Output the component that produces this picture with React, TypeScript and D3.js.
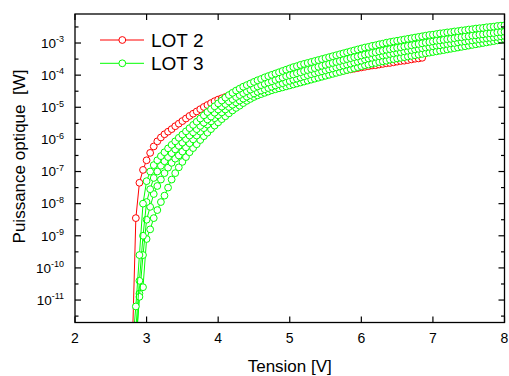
import React from 'react';
import * as d3 from 'd3';

// Voltage sweep of the measurements
const VOLT_START = 2.8;
const VOLT_STEP = 0.05;

// log10 of optical power [W]
const lot2LogP = [
  -12.5, -8.45, -7.35, -6.95, -6.65, -6.42, -6.22, -6.06, -5.94, -5.84, -5.76,
  -5.68, -5.59, -5.51, -5.43, -5.35, -5.27, -5.2, -5.13, -5.06, -4.99, -4.93, -4.87, -4.81,
  -4.76, -4.72, -4.68, -4.64, -4.6, -4.57, -4.54, -4.51, -4.48, -4.45, -4.42, -4.39, -4.37,
  -4.34, -4.31, -4.29, -4.26, -4.24, -4.21, -4.19, -4.17, -4.15, -4.12, -4.1, -4.08, -4.06,
  -4.04, -4.02, -4.0, -3.98, -3.96, -3.94, -3.92, -3.9, -3.88, -3.86, -3.84, -3.82, -3.8,
  -3.78, -3.76, -3.74, -3.72, -3.7, -3.69, -3.67, -3.65, -3.63, -3.62, -3.6, -3.58, -3.56,
  -3.55, -3.53, -3.51, -3.49, -3.48, -3.46,
];

const lot3aLogP = [
  -12.5, -11.2, -9.6, -8.0, -7.3, -7.0, -6.8, -6.65, -6.52, -6.4, -6.28, -6.17, -6.06, -5.95,
  -5.85, -5.75, -5.65, -5.55, -5.45, -5.35, -5.25, -5.15, -5.06, -4.97, -4.88, -4.79, -4.7,
  -4.62, -4.55, -4.48, -4.42, -4.36, -4.31, -4.26, -4.21, -4.16, -4.12, -4.07, -4.03, -3.99,
  -3.95, -3.91, -3.87, -3.83, -3.79, -3.75, -3.72, -3.68, -3.65, -3.62, -3.59, -3.56, -3.53,
  -3.5, -3.47, -3.44, -3.41, -3.38, -3.35, -3.32, -3.29, -3.26, -3.23, -3.2, -3.17, -3.14,
  -3.12, -3.09, -3.07, -3.04, -3.02, -2.99, -2.97, -2.95, -2.93, -2.91, -2.89, -2.87, -2.85,
  -2.83, -2.81, -2.79, -2.77, -2.75, -2.74, -2.72, -2.7, -2.69, -2.67, -2.66, -2.64, -2.63,
  -2.61, -2.6, -2.58, -2.57, -2.55, -2.54, -2.53, -2.51, -2.5, -2.49, -2.47, -2.46, -2.45,
];

const lot3bLogP = [
  -12.8, -11.9, -10.4, -9.0, -7.95, -7.55, -7.2, -7.0, -6.82, -6.68, -6.55, -6.43, -6.31, -6.2,
  -6.1, -5.99, -5.88, -5.78, -5.68, -5.58, -5.48, -5.38, -5.29, -5.17, -5.07, -4.98, -4.9,
  -4.82, -4.75, -4.68, -4.62, -4.56, -4.5, -4.45, -4.4, -4.35, -4.31, -4.27, -4.23, -4.19,
  -4.15, -4.11, -4.07, -4.03, -4.0,
  -3.98, -3.94, -3.91, -3.87, -3.84, -3.81, -3.78, -3.74, -3.71, -3.68,
  -3.65, -3.62, -3.59, -3.56, -3.53, -3.5, -3.47, -3.44, -3.42, -3.39,
  -3.36, -3.34, -3.31, -3.29, -3.26, -3.24, -3.21, -3.19, -3.17, -3.15,
  -3.13, -3.11, -3.09, -3.07, -3.05, -3.03, -3.01, -2.99, -2.97, -2.95,
  -2.93, -2.92, -2.9, -2.88, -2.87, -2.85, -2.83, -2.82, -2.8, -2.79,
  -2.77, -2.76, -2.74, -2.73, -2.71, -2.7, -2.69, -2.67, -2.66, -2.65,
];

const lot3cLogP = [
  -13.0, -12.4, -10.9, -9.6, -8.5, -8.1, -7.7, -7.45, -7.25, -7.05, -6.88, -6.73, -6.6, -6.5,
  -6.38, -6.25, -6.12, -6.0, -5.88, -5.76, -5.65, -5.54, -5.44, -5.34, -5.25, -5.16, -5.07,
  -4.99, -4.92, -4.85, -4.79, -4.73, -4.67, -4.62, -4.57, -4.52, -4.48, -4.44, -4.4, -4.36,
  -4.32, -4.28, -4.25, -4.21, -4.18,
  -4.14, -4.11, -4.07, -4.04, -4.0, -3.97, -3.94, -3.91, -3.88, -3.85,
  -3.82, -3.79, -3.76, -3.73, -3.7, -3.67, -3.64, -3.61, -3.58, -3.55,
  -3.51, -3.48, -3.46, -3.43, -3.41, -3.39, -3.37, -3.34, -3.32, -3.3,
  -3.28, -3.26, -3.24, -3.22, -3.2, -3.18, -3.16, -3.14, -3.12, -3.1,
  -3.08, -3.07, -3.05, -3.03, -3.01, -3.0, -2.98, -2.96, -2.95, -2.93,
  -2.92, -2.9, -2.88, -2.87, -2.85, -2.84, -2.82, -2.81, -2.79, -2.78,
];

const lot3dLogP = [
  -13.2, -12.5, -10.8, -10.6, -9.1, -8.8, -8.45, -8.2, -7.95, -7.75, -7.5, -7.25, -7.05, -6.87,
  -6.7, -6.55, -6.4, -6.27, -6.15, -6.02, -5.9, -5.79, -5.68, -5.57, -5.47, -5.37, -5.28,
  -5.19, -5.1, -5.02, -4.95, -4.87, -4.8, -4.74, -4.68, -4.63, -4.59, -4.55, -4.51, -4.47,
  -4.44, -4.41, -4.38, -4.35, -4.32,
  -4.29, -4.26, -4.23, -4.2, -4.17, -4.14, -4.11, -4.08, -4.05, -4.02,
  -3.99, -3.96, -3.93, -3.9, -3.87, -3.84, -3.81, -3.78, -3.75, -3.72,
  -3.69, -3.67, -3.64, -3.62, -3.59, -3.57, -3.55, -3.52, -3.5, -3.48,
  -3.46, -3.44, -3.42, -3.4, -3.38, -3.36, -3.34, -3.32, -3.3, -3.28,
  -3.26, -3.24, -3.22, -3.2, -3.18, -3.16, -3.14, -3.12, -3.1, -3.08,
  -3.06, -3.04, -3.02, -3.0, -2.98, -2.96, -2.94, -2.92, -2.9, -2.88,
];

const xTickValues = [2, 3, 4, 5, 6, 7, 8];
const yDecades = [-3, -4, -5, -6, -7, -8, -9, -10, -11];
const yMinorExps = [-2.5, -3.5, -4.5, -5.5, -6.5, -7.5, -8.5, -9.5, -10.5, -11.5];

const RED = '#ff0000';
const GREEN = '#00ff00';

const seriesList = [
  { name: 'LOT 2', color: RED, values: lot2LogP },
  { name: 'LOT 3', color: GREEN, values: lot3dLogP },
  { name: 'LOT 3', color: GREEN, values: lot3cLogP },
  { name: 'LOT 3', color: GREEN, values: lot3bLogP },
  { name: 'LOT 3', color: GREEN, values: lot3aLogP },
];
const legendItems = [
  { name: 'LOT 2', color: RED },
  { name: 'LOT 3', color: GREEN },
];

const WIDTH = 509;
const HEIGHT = 376;
const PL = 75, PR = 504.5, PT = 14, PB = 322.5;
const FONT = '"Liberation Sans", Arial, sans-serif';

export default function App() {
  const x = d3.scaleLinear().domain([2, 8]).range([PL, PR]);
  const y = d3.scaleLog().domain([2e-12, 8e-3]).range([PB, PT]);
  const line = d3
    .line<[number, number]>()
    .x((d) => x(d[0]))
    .y((d) => y(d[1]));

  const toPoints = (vals: number[]): [number, number][] =>
    vals.map((v, i) => [VOLT_START + i * VOLT_STEP, Math.pow(10, v)]);

  const R = 3.4;

  return (
    <svg
      width={WIDTH}
      height={HEIGHT}
      style={{ position: 'absolute', left: 0, top: 0, background: '#fff' }}
      fontFamily={FONT}
    >
      <defs>
        <clipPath id="plotclip">
          <rect x={PL} y={PT} width={PR - PL} height={PB - PT} />
        </clipPath>
      </defs>
      <rect x={0} y={0} width={WIDTH} height={HEIGHT} fill="#fff" />

      <g clipPath="url(#plotclip)">
        {seriesList.map((s, si) => {
          const pts = toPoints(s.values);
          return (
            <g key={si}>
              <path d={line(pts) || ''} fill="none" stroke={s.color} strokeWidth={1} />
              {pts.map((p, i) => (
                <circle
                  key={i}
                  cx={x(p[0])}
                  cy={y(p[1])}
                  r={R}
                  fill="#fff"
                  stroke={s.color}
                  strokeWidth={1}
                />
              ))}
            </g>
          );
        })}
      </g>

      {/* frame */}
      <rect x={PL} y={PT} width={PR - PL} height={PB - PT} fill="none" stroke="#000" strokeWidth={1.3} />

      {/* x ticks */}
      {xTickValues.map((t) => (
        <g key={'xt' + t}>
          <line x1={x(t)} x2={x(t)} y1={PB} y2={PB - 6} stroke="#000" strokeWidth={1.2} />
          <line x1={x(t)} x2={x(t)} y1={PT} y2={PT + 6} stroke="#000" strokeWidth={1.2} />
          <text x={x(t)} y={342.5} fontSize={14} textAnchor="middle" fill="#000">
            {t}
          </text>
        </g>
      ))}

      {/* y ticks */}
      {yDecades.map((e) => {
        const yy = y(Math.pow(10, e));
        return (
          <g key={'yt' + e}>
            <line x1={PL} x2={PL + 6} y1={yy} y2={yy} stroke="#000" strokeWidth={1.2} />
            <line x1={PR} x2={PR - 6} y1={yy} y2={yy} stroke="#000" strokeWidth={1.2} />
            <text x={64} y={yy + 4.8} fontSize={13.5} textAnchor="end" fill="#000">
              10
              <tspan fontSize={9} dy={-5.5}>
                {e}
              </tspan>
            </text>
          </g>
        );
      })}
      {yMinorExps.map((e) => {
        const yy = y(Math.pow(10, e));
        return (
          <g key={'ym' + e}>
            <line x1={PL} x2={PL + 3.5} y1={yy} y2={yy} stroke="#000" strokeWidth={1.2} />
            <line x1={PR} x2={PR - 3.5} y1={yy} y2={yy} stroke="#000" strokeWidth={1.2} />
          </g>
        );
      })}

      {/* axis titles */}
      <text x={(PL + PR) / 2} y={371.5} fontSize={17} textAnchor="middle" fill="#000">
        Tension [V]
      </text>
      <text
        transform={`translate(25, 156.5) rotate(-90)`}
        fontSize={17}
        textAnchor="middle"
        fill="#000"
        style={{ whiteSpace: 'pre' }}
      >
        {'Puissance optique  [W]'}
      </text>

      {/* legend */}
      {legendItems.map((it, i) => {
        const ly = 40 + i * 23.3;
        return (
          <g key={'lg' + i}>
            <line x1={100} x2={144} y1={ly} y2={ly} stroke={it.color} strokeWidth={1} />
            <circle cx={122.3} cy={ly} r={R} fill="#fff" stroke={it.color} strokeWidth={1} />
            <text x={151} y={ly + 6.8} fontSize={19} fill="#000">
              {it.name}
            </text>
          </g>
        );
      })}
    </svg>
  );
}
